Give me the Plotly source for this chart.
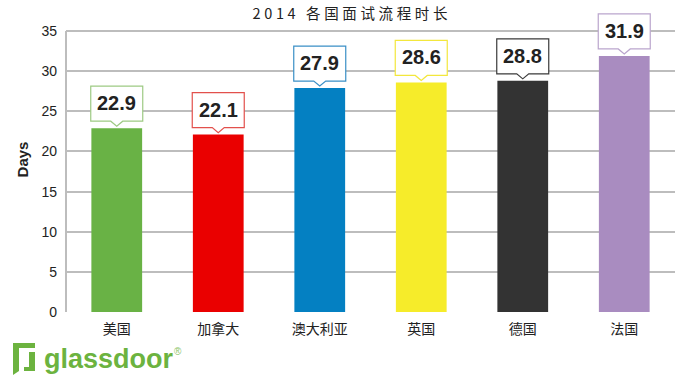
import plotly.graph_objects as go

categories = ["美国", "加拿大", "澳大利亚", "英国", "德国", "法国"]
days = [22.9, 22.1, 27.9, 28.6, 28.8, 31.9]
bar_colors = ["#69b245", "#ea0000", "#0480c2", "#f6ec2a", "#333333", "#a98cc0"]
box_colors = ["#9dca83", "#e2504c", "#3a8fc6", "#f3e73c", "#3a3a3a", "#baa5cd"]
y_ticks = [0, 5, 10, 15, 20, 25, 30, 35]
title_text = "2014 各国面试流程时长"

fig = go.Figure()
fig.add_trace(go.Bar(
    x=list(range(len(categories))), y=days, width=0.5,
    marker=dict(color=bar_colors, line=dict(width=0)),
    hoverinfo="skip", showlegend=False,
))

# left axis line, from 0 to the top tick
fig.add_shape(type="line", xref="paper", yref="y", x0=0, x1=0, y0=y_ticks[0], y1=y_ticks[-1],
              line=dict(color="#bdbdbd", width=2), layer="above")

box_path = "M -6,7 L -26,7 L -26,42 L 26,42 L 26,7 L 6,7 L 0,2 Z"
for i, (v, bc) in enumerate(zip(days, box_colors)):
    fig.add_shape(type="path", xref="x", yref="y", xsizemode="pixel", ysizemode="pixel",
                  xanchor=i, yanchor=v, path=box_path,
                  fillcolor="white", line=dict(color=bc, width=1.2), layer="above")
    fig.add_annotation(x=i, y=v, text=f"{v:.1f}", showarrow=False, yshift=25,
                       yanchor="middle", xanchor="center",
                       font=dict(family="Liberation Sans, Arial", size=20, color="#222222", weight="bold"))

# glassdoor logo icon (door), relative to the plot's bottom-left corner
icon_path = ("M -53,-31 L -31,-31 L -31,-36 L -47,-36 L -47,-59 L -53,-63 Z "
             "M -37,-40 L -31,-40 L -31,-59 L -42,-59 L -42,-55 L -37,-55 Z")
fig.add_shape(type="path", xref="paper", yref="paper", xsizemode="pixel", ysizemode="pixel",
              xanchor=0, yanchor=0, path=icon_path, fillcolor="#6cb33f", line=dict(width=0))
fig.add_annotation(x=0, y=0, xref="paper", yref="paper", text="glassdoor",
                   showarrow=False, xanchor="left", yanchor="middle", xshift=-24, yshift=-47,
                   font=dict(family="Liberation Sans, Arial", size=27, color="#6cb33f", weight="bold"))
fig.add_annotation(x=0, y=0, xref="paper", yref="paper", text="®",
                   showarrow=False, xanchor="left", yanchor="middle", xshift=106, yshift=-39,
                   font=dict(family="Liberation Sans, Arial", size=10, color="#8cc46a"))

fig.update_layout(
    width=700, height=377,
    margin=dict(l=66, r=25, t=7, b=65, autoexpand=False),
    paper_bgcolor="white", plot_bgcolor="white",
    title=dict(text="\u2005".join(title_text), x=0.5, xanchor="center", y=0.962, yanchor="middle",
               font=dict(family="Noto Sans CJK SC", size=14.5, color="#222222")),
    xaxis=dict(tickmode="array", tickvals=list(range(len(categories))), ticktext=categories,
               range=[-0.5, len(categories) - 0.5], showgrid=False, zeroline=False,
               showline=False, ticks="", automargin=False, ticklabelstandoff=7,
               tickfont=dict(family="Noto Sans CJK SC", size=14, color="#222222")),
    yaxis=dict(range=[0, 38], tickvals=y_ticks, showgrid=True, gridcolor="#bdbdbd", gridwidth=1.5,
               zeroline=False, showline=False, ticks="", automargin=False,
               ticklabelstandoff=8,
               tickfont=dict(family="Liberation Sans, Arial", size=14, color="#222222"),
               title=dict(text="Days", standoff=9,
                          font=dict(family="Liberation Sans, Arial", size=15, color="#222222", weight="bold"))),
)
fig.write_html("out.html", config={"displayModeBar": False},
               post_script="document.body.style.margin='0';")
